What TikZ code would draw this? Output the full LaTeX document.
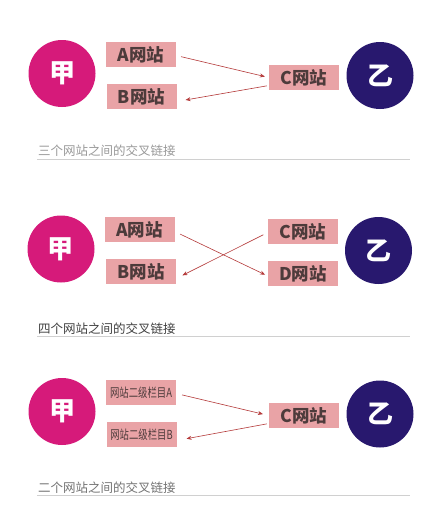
\documentclass[tikz,border=0pt]{standalone}
\usepackage{fontspec}
\newfontfamily\cjk{Noto Sans CJK SC}
\usetikzlibrary{arrows.meta}
\definecolor{jiacol}{HTML}{D61A7A}
\definecolor{yicol}{HTML}{28186E}
\definecolor{boxcol}{HTML}{E9A3A6}
\definecolor{boxtxt}{HTML}{4D3B3B}
\definecolor{arrcol}{HTML}{B53A3A}
\definecolor{rulecol}{HTML}{D0D0D0}
\newcommand{\narrowtxt}[1]{\scalebox{0.75}[1]{#1}}
\tikzset{
  person/.style={circle, minimum size=67pt, inner sep=0pt, text=white, font=\cjk\bfseries\fontsize{26}{26}\selectfont},
  jia/.style={person, fill=jiacol},
  yi/.style={person, fill=yicol},
  site/.style={rectangle, fill=boxcol, minimum width=70pt, minimum height=25pt, inner sep=0pt, text=boxtxt, font=\cjk\bfseries\fontsize{17.5}{17.5}\selectfont},
  subsite/.style={site, font=\cjk\fontsize{12.5}{12.5}\selectfont},
  link/.style={draw=arrcol, line width=0.6pt, -{Stealth[length=5pt,width=4pt]}},
  caption/.style={anchor=west, inner sep=0pt, font=\cjk\fontsize{12.5}{12.5}\selectfont},
  rulel/.style={draw=rulecol, line width=0.8pt}
}
\begin{document}
\begin{tikzpicture}[x=1pt,y=-1pt]
\useasboundingbox[fill=white] (0,0) rectangle (445,507);
% Section 1
\node[jia] (j1) at (62,73.5) {甲};
\node[yi] (y1) at (380,75.5) {乙};
\node[site] (a1) at (141,54.5) {A网站};
\node[site] (b1) at (141.5,96.5) {B网站};
\node[site] (c1) at (304,77.5) {C网站};
\draw[link, shorten <=5pt, shorten >=4pt] ([yshift=-1pt]a1.east) -- (c1.west);
\draw[link, shorten <=2pt, shorten >=9pt] ([yshift=-8pt]c1.west) -- ([yshift=-5pt]b1.east);
\node[caption, text=black!40] (t1) at (38,151) {三个网站之间的交叉链接};
\draw[rulel] (37,159) -- (410,159);
% Section 2
\node[jia] (j2) at (61,249) {甲};
\node[yi] (y2) at (378.5,250.5) {乙};
\node[site] (a2) at (139.5,229.5) {A网站};
\node[site] (b2) at (141,271.5) {B网站};
\node[site] (c2) at (303,231.5) {C网站};
\node[site] (d2) at (303,273.5) {D网站};
\draw[link, shorten <=6pt, shorten >=3pt] ([yshift=-2pt]a2.east) -- ([yshift=-2.5pt]d2.west);
\draw[link, shorten <=5pt, shorten >=7pt] ([yshift=-1pt]c2.west) -- ([yshift=-7pt]b2.east);
\node[caption, text=black!75] (t2) at (38,329) {四个网站之间的交叉链接};
\draw[rulel] (37,336) -- (410,336);
% Section 3
\node[jia] (j3) at (62,411.5) {甲};
\node[yi] (y3) at (380,414) {乙};
\node[subsite] (a3) at (141,392.5) {\narrowtxt{网站二级栏目A}};
\node[subsite] (b3) at (141.5,434.5) {\narrowtxt{网站二级栏目B}};
\node[site] (c3) at (304,415.5) {C网站};
\draw[link, shorten <=6pt, shorten >=6pt] ([yshift=-1pt]a3.east) -- (c3.west);
\draw[link, shorten <=2pt, shorten >=10pt] ([yshift=-8pt]c3.west) -- ([yshift=-6pt]b3.east);
\node[caption, text=black!55] (t3) at (38,488) {二个网站之间的交叉链接};
\draw[rulel] (37,495) -- (410,495);
\end{tikzpicture}
\end{document}
